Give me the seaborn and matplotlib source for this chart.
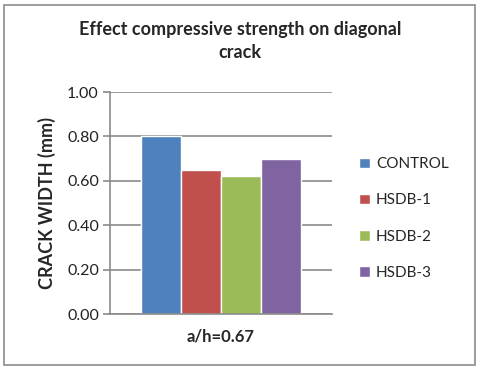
import matplotlib
matplotlib.use("Agg")
import matplotlib.pyplot as plt
import seaborn as sns
import pandas as pd
from matplotlib.patches import Rectangle

categories = ["a/h=0.67"]
series = ["CONTROL", "HSDB-1", "HSDB-2", "HSDB-3"]
values = [0.80, 0.65, 0.62, 0.70]
colors = ["#4F81BD", "#C0504D", "#9BBB59", "#8064A2"]
yticks = [0.0, 0.2, 0.4, 0.6, 0.8, 1.0]

df = pd.DataFrame({"cat": categories * len(series), "series": series, "value": values})

sns.set_style("white")
plt.rcParams['font.family'] = ['Lato', 'DejaVu Sans']

fig = plt.figure(figsize=(4.8, 3.7), dpi=100)
fig.patch.set_facecolor("white")
fig.patches.append(Rectangle((4/480, 5/370), 471/480, 360/370, transform=fig.transFigure,
                             fill=False, edgecolor="#8c8c8c", linewidth=1.2))

ax = fig.add_axes([110/480, 56/370, 222/480, 222/370])
sns.barplot(data=df, x="cat", y="value", hue="series", palette=colors,
            width=0.725, ax=ax, saturation=1, legend=True)

ax.set_ylim(0, 1.0)
ax.set_xlim(-0.5, 0.5)
ax.set_yticks(yticks)
ax.set_yticklabels([f"{t:.2f}" for t in yticks], fontsize=11.5, color="#222222")
ax.yaxis.grid(True, color="#8a8a8a", linewidth=1.2)
ax.set_axisbelow(True)
for s in ["top", "right"]:
    ax.spines[s].set_visible(False)
for s in ["left", "bottom"]:
    ax.spines[s].set_color("#8a8a8a")
    ax.spines[s].set_linewidth(1.2)
ax.tick_params(axis="y", which="both", left=True, length=5, width=1.2, color="#8a8a8a", pad=3)
ax.tick_params(axis="x", bottom=False, labelsize=12, pad=7)
for lbl in ax.get_xticklabels():
    lbl.set_fontweight("bold")
ax.set_xlabel("")
ax.set_ylabel("CRACK WIDTH (mm)", fontsize=13, fontweight="bold", labelpad=8)

leg = ax.legend(loc="center left", bbox_to_anchor=(1.06, 0.43), frameon=False,
                fontsize=11, handlelength=0.7, handleheight=0.7, labelspacing=1.45,
                handletextpad=0.4)

fig.text(240/480, 1 - 30/370, "Effect compressive strength on diagonal", ha="center",
         va="center", fontsize=13, fontweight="bold")
fig.text(240/480, 1 - 53/370, "crack", ha="center", va="center", fontsize=13, fontweight="bold")

fig.savefig("out.png", dpi=100)
